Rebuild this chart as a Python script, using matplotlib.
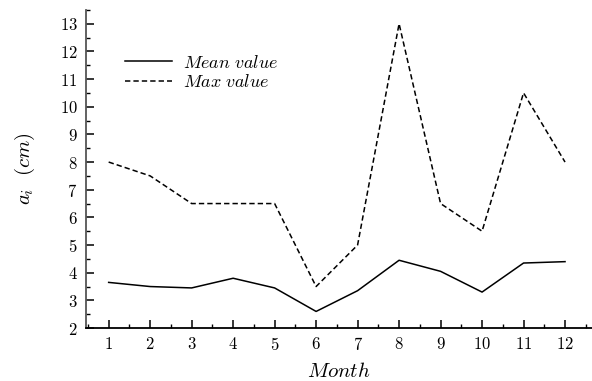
import matplotlib
matplotlib.use("Agg")
import matplotlib.pyplot as plt
from matplotlib.ticker import MultipleLocator

# Monthly values
months = [1, 2, 3, 4, 5, 6, 7, 8, 9, 10, 11, 12]
mean_value = [3.65, 3.5, 3.45, 3.8, 3.45, 2.6, 3.35, 4.45, 4.05, 3.3, 4.35, 4.4]
max_value = [8.0, 7.5, 6.5, 6.5, 6.5, 3.5, 5.0, 13.0, 6.5, 5.5, 10.5, 8.0]

plt.rcParams['font.family'] = ['cmr10', 'DejaVu Serif']
plt.rcParams['mathtext.fontset'] = 'cm'
plt.rcParams['axes.formatter.use_mathtext'] = True

fig = plt.figure(figsize=(5.92, 3.81), dpi=100)
ax = fig.add_axes([0.145, 0.139, 0.855, 0.835])

ax.plot(months, mean_value, color='black', lw=1.1, label=r'$Mean\ value$')
ax.plot(months, max_value, color='black', lw=1.1, linestyle=(0, (3.5, 2)),
        label=r'$Max\ value$')

ax.set_xlim(0.45, 12.65)
ax.set_ylim(2, 13.5)
ax.xaxis.set_major_locator(MultipleLocator(1))
ax.xaxis.set_minor_locator(MultipleLocator(0.5))
ax.yaxis.set_major_locator(MultipleLocator(1))
ax.yaxis.set_minor_locator(MultipleLocator(0.5))

ax.spines['top'].set_visible(False)
ax.spines['right'].set_visible(False)
ax.spines['left'].set_color('#555555')
ax.spines['left'].set_linewidth(1.3)
ax.spines['bottom'].set_linewidth(1.3)
ax.tick_params(which='both', direction='in', labelsize=12, color='black')
ax.tick_params(which='major', length=6, width=1.1, pad=6)
ax.tick_params(which='minor', length=3, width=1.0)

ax.set_xlabel(r'$Month$', fontsize=15, labelpad=6)
ax.set_ylabel(r'$a_i\ \ (cm)$', fontsize=15, labelpad=16)

ax.legend(loc='upper left', bbox_to_anchor=(0.077, 0.862), frameon=False,
          borderpad=0, borderaxespad=0, fontsize=13, handlelength=2.6,
          handletextpad=0.6, labelspacing=0.12)

fig.savefig("out.png", dpi=100)
